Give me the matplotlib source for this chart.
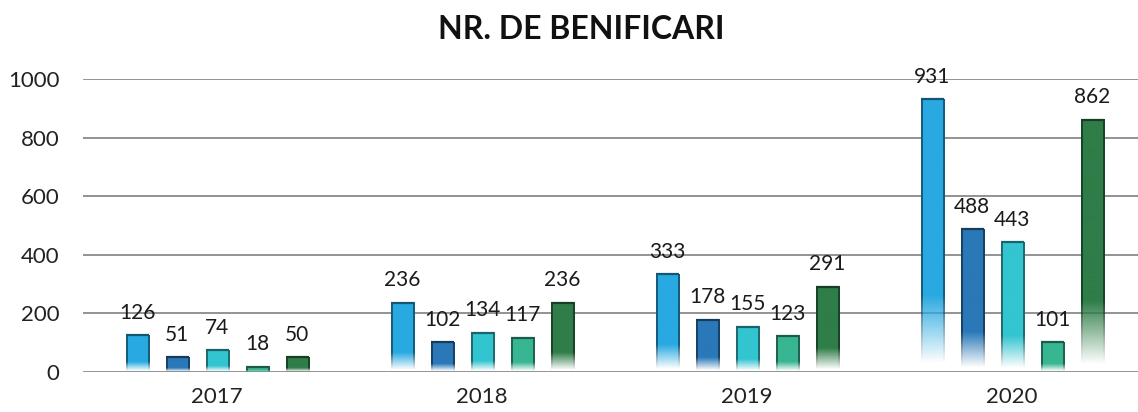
import numpy as np
import matplotlib
matplotlib.use('Agg')
import matplotlib.pyplot as plt
from matplotlib.colors import to_rgb

years = ['2017', '2018', '2019', '2020']
series = [
    [126, 236, 333, 931],
    [51, 102, 178, 488],
    [74, 134, 155, 443],
    [18, 117, 123, 101],
    [50, 236, 291, 862],
]
colors = ['#29a9e1', '#2a78b8', '#33c5d0', '#38b592', '#2f7d48']
yticks = [0, 200, 400, 600, 800, 1000]

plt.rcParams['font.family'] = ['Lato', 'DejaVu Sans']

fig = plt.figure(figsize=(11.38, 4.12), dpi=100)
ax = fig.add_axes([0.073, 0.097, 0.927, 0.711])

step = 0.151
width = 0.087
x = np.arange(len(years))


def bar_image(color, nx=24, ny=200, fade=0.25):
    # vertical fade to white at the bottom, darker outline on the sides
    base = np.array(to_rgb(color))
    dark = base * 0.55
    img = np.zeros((ny, nx, 4))
    img[:, :, :3] = base
    img[:, :2, :3] = dark
    img[:, -2:, :3] = dark
    t = np.linspace(0, 1, ny)
    alpha = np.clip((t - 0.03) / fade, 0, 1)
    img[:, :, 3] = alpha[:, None]
    return img


for i, vals in enumerate(series):
    offs = (i - 2) * step
    dark = np.array(to_rgb(colors[i])) * 0.5
    for j, v in enumerate(vals):
        xc = x[j] + offs
        ax.imshow(bar_image(colors[i]), extent=[xc - width / 2, xc + width / 2, 0, v],
                  origin='lower', aspect='auto', interpolation='bilinear', zorder=3)
        ax.hlines(v, xc - width / 2, xc + width / 2, colors=[dark], linewidth=1.6, zorder=3.5)
        ax.annotate(str(v), (xc, v), xytext=(0, 9), textcoords='offset points',
                    ha='center', va='bottom', fontsize=15, color='#1a1a1a', zorder=4)

ax.set_xlim(-0.506, 3.475)
ax.set_ylim(0, 1000)
ax.set_yticks(yticks)
ax.set_yticklabels([str(t) for t in yticks], fontsize=16, color='#222222')
ax.set_xticks(x)
ax.set_xticklabels(years, fontsize=16, color='#222222')
ax.tick_params(axis='y', length=0, pad=17)
ax.tick_params(axis='x', length=0, pad=11)
for s in ax.spines.values():
    s.set_visible(False)
ax.grid(axis='y', color='#8a8a8a', linewidth=1.3, zorder=0)
ax.set_axisbelow(True)

fig.text(0.511, 0.928, 'NR. DE BENIFICARI', ha='center', va='center',
         fontsize=23, fontweight='bold', color='#111111')

fig.savefig('out.png', dpi=100, facecolor='white')
